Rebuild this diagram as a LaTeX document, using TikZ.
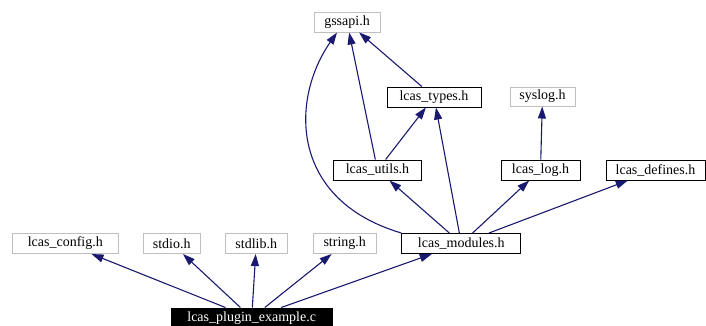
\documentclass[tikz,border=0pt]{standalone}
\usepackage{fontspec}
\setmainfont{Liberation Serif}
\usetikzlibrary{arrows.meta}
\definecolor{edgeblue}{HTML}{191970}
\definecolor{boxgray}{HTML}{BFBFBF}
\begin{document}
\begin{tikzpicture}[x=1pt,y=-1pt,
  file/.style={draw=black,line width=1pt,fill=white,minimum height=20pt,inner sep=0pt,font=\fontsize{14}{16}\selectfont},
  extfile/.style={file,draw=boxgray},
  mainfile/.style={file,fill=black,text=white},
  dep/.style={draw=edgeblue,line width=1.1pt,-{Triangle[length=12pt,width=8pt]}}]
\useasboundingbox (0,0) rectangle (706,325);
% nodes
\node[extfile,minimum width=66pt] (gssapi) at (347,22) {gssapi.h};
\node[file,minimum width=94pt] (types) at (434,97) {lcas\_types.h};
\node[extfile,minimum width=65pt,minimum height=19pt] (syslog) at (542.5,96.5) {syslog.h};
\node[file,minimum width=88pt] (utils) at (377.5,170) {lcas\_utils.h};
\node[file,minimum width=79pt] (log) at (540.5,170) {lcas\_log.h};
\node[file,minimum width=99pt] (defines) at (655.5,170) {lcas\_defines.h};
\node[extfile,minimum width=106pt] (config) at (65.3,243.5) {lcas\_config.h};
\node[extfile,minimum width=57pt] (stdio) at (171.7,243.5) {stdio.h};
\node[extfile,minimum width=62pt] (stdlib) at (256.3,243.5) {stdlib.h};
\node[extfile,minimum width=63pt] (string) at (344.7,243.5) {string.h};
\node[file,minimum width=119pt] (modules) at (461.3,243.5) {lcas\_modules.h};
\node[mainfile,minimum width=161pt] (plugin) at (251.7,318) {lcas\_plugin\_example.c};
% edges
\draw[dep] (plugin) -- (config);
\draw[dep] (plugin) -- (stdio);
\draw[dep] (plugin) -- (stdlib);
\draw[dep] (plugin) -- (string);
\draw[dep] (plugin) -- (modules);
\draw[dep] (modules) -- (utils);
\draw[dep] (modules) -- (types);
\draw[dep] (modules) -- (log);
\draw[dep] (modules) -- (defines);
\draw[dep] (modules.north west) .. controls (290,200) and (290,100) .. (gssapi.south -| 337,0);
\draw[dep] (utils) -- (types);
\draw[dep] (utils) -- (gssapi);
\draw[dep] (types) -- (gssapi);
\draw[dep] (log) -- (syslog);
\end{tikzpicture}
\end{document}
